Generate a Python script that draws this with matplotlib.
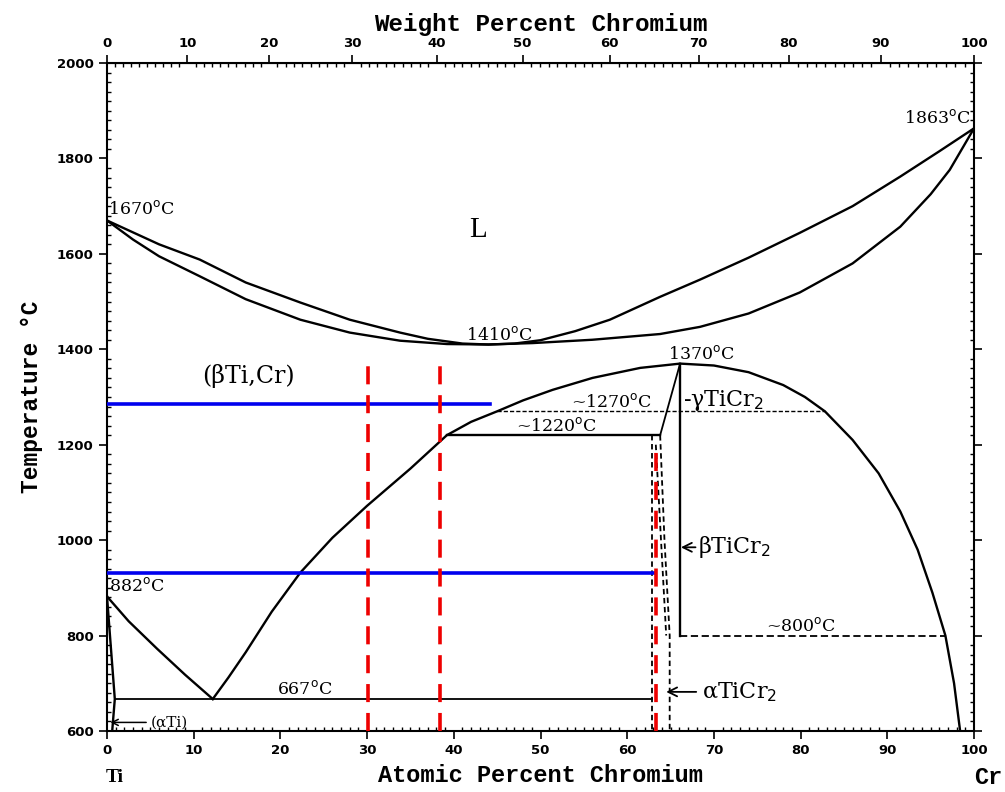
import numpy as np
import matplotlib
matplotlib.use('Agg')
import matplotlib.pyplot as plt
from matplotlib.ticker import MultipleLocator

# Liquidus and solidus (at.% Cr, degC)
liq_x = [0, 3, 6, 10.7, 16, 22.3, 28, 33.8, 37, 41, 44, 47, 50, 54, 58, 63.8, 68.4, 74, 79.9, 86, 91.5, 96, 100]
liq_t = [1670, 1645, 1620, 1588, 1540, 1498, 1462, 1435, 1422, 1412, 1410, 1412, 1419, 1438, 1462, 1510, 1546, 1592, 1644, 1700, 1762, 1815, 1863]
sol_x = [0, 3, 6, 10.7, 16, 22.3, 28, 33.8, 39.2, 44, 49.1, 56, 63.8, 68.4, 74, 79.9, 86, 91.5, 95, 97.2, 100]
sol_t = [1670, 1630, 1595, 1553, 1505, 1462, 1435, 1418, 1411, 1410, 1413, 1420, 1432, 1447, 1475, 1519, 1580, 1657, 1725, 1776, 1863]

# beta solvus dome
dome_x = [12.2, 14, 16, 19, 22.3, 26, 30, 35, 39.2, 42, 45, 48, 51.4, 56, 61.5, 66.1, 70, 74, 78, 80.5, 82.8,
          86, 89, 91.5, 93.5, 95.2, 96.7, 97.7, 98.4]
dome_t = [667, 712, 765, 850, 932, 1005, 1072, 1150, 1220, 1248, 1270, 1293, 1315, 1340, 1361, 1370, 1366, 1352, 1325, 1300, 1270,
          1210, 1140, 1060, 980, 890, 800, 700, 600]

# Ti-rich side
transus_x = [0, 2.5, 5.8, 9, 12.2]
transus_t = [882, 830, 772, 718, 667]
alpha_x = [0, 0.9, 0.6]
alpha_t = [882, 667, 600]

# TiCr2 boundaries
gam_left_x = [63.8, 66.1]
gam_left_t = [1220, 1370]
gam_right_x = [66.1, 66.1]
gam_right_t = [1370, 800]
dash1_x = [62.9, 62.9]
dash1_t = [1220, 600]
dash2_x = [63.8, 64.3, 64.9, 64.9]
dash2_t = [1220, 1000, 800, 600]
dash3_x = [63.3, 63.9, 64.5]
dash3_t = [1200, 1000, 800]

# invariant lines
eutectoid_x = [0.9, 62.9]
eutectoid_t = [667, 667]
h1220_x = [39.2, 63.8]
h1220_t = [1220, 1220]
h1270_x = [45, 82.8]
h1270_t = [1270, 1270]
h800_x = [66.1, 96.7]
h800_t = [800, 800]

# overlay marks
blue_t = [1285, 932]
blue_end = [44.2, 63.2]
red_x = [30.05, 38.4, 63.3]
red_top = [1380, 1380, 1190]


def at2wt(a):
    a = np.asarray(a, dtype=float)
    return 100 * a * 52.0 / (a * 52.0 + (100 - a) * 47.87)


def wt2at(w):
    w = np.asarray(w, dtype=float)
    return 100 * (w / 52.0) / ((w / 52.0) + (100 - w) / 47.87)


fig = plt.figure(figsize=(10.05, 7.92), dpi=100)
ax = fig.add_axes([107 / 1005, 1 - 731 / 792, (974 - 107) / 1005, (731 - 63) / 792])

lw = 1.7
k = 'black'
ax.plot(liq_x, liq_t, color=k, lw=lw)
ax.plot(sol_x, sol_t, color=k, lw=lw)
ax.plot(dome_x, dome_t, color=k, lw=lw)
ax.plot(transus_x, transus_t, color=k, lw=lw)
ax.plot(alpha_x, alpha_t, color=k, lw=lw)
ax.plot(gam_left_x, gam_left_t, color=k, lw=1.3)
ax.plot(gam_right_x, gam_right_t, color=k, lw=lw)
ax.plot(eutectoid_x, eutectoid_t, color=k, lw=1.3)
ax.plot(h1220_x, h1220_t, color=k, lw=lw)
ax.plot(h1270_x, h1270_t, color=k, lw=1.0, ls=(0, (3, 1.5)))
ax.plot(h800_x, h800_t, color=k, lw=1.3, ls=(0, (4, 2)))
for xs, ts in [(dash1_x, dash1_t), (dash2_x, dash2_t), (dash3_x, dash3_t)]:
    ax.plot(xs, ts, color=k, lw=1.3, ls=(0, (3, 2)))

# overlays
for t, xe in zip(blue_t, blue_end):
    ax.plot([0, xe], [t, t], color='#0000ee', lw=2.6, zorder=5)
for x, top in zip(red_x, red_top):
    ax.plot([x, x], [600, top], color='#ee0000', lw=2.6, ls=(0, (5, 3)), zorder=6)

# annotations
serif = 'DejaVu Serif'
big = 'Liberation Serif'
deg = '$^\\mathrm{o}$C'
ts = 12.5
ax.text(0.1, 1676, '1670' + deg, fontsize=ts, family=serif, ha='left', va='bottom')
ax.text(99.6, 1866, '1863' + deg, fontsize=ts, family=serif, ha='right', va='bottom')
ax.text(45.3, 1411, '1410' + deg, fontsize=ts, family=serif, ha='center', va='bottom')
ax.text(68.6, 1372, '1370' + deg, fontsize=ts, family=serif, ha='center', va='bottom')
ax.text(0.2, 886, '882' + deg, fontsize=ts, family=serif, ha='left', va='bottom')
ax.text(22.8, 669, '667' + deg, fontsize=ts, family=serif, ha='center', va='bottom')
ax.text(58.2, 1271, '~1270' + deg, fontsize=ts, family=serif, ha='center', va='bottom')
ax.text(51.9, 1221, '~1220' + deg, fontsize=ts, family=serif, ha='center', va='bottom')
ax.text(80.0, 801, '~800' + deg, fontsize=ts, family=serif, ha='center', va='bottom')
ax.text(42.8, 1650, 'L', fontsize=21, family=big, ha='center', va='center')
ax.text(16.3, 1343, '(\u03b2Ti,Cr)', fontsize=17, family=serif, ha='center', va='center')
ax.text(66.4, 1292, '-\u03b3TiCr$_2$', fontsize=16, family=serif, ha='left', va='center')
ax.annotate('\u03b2TiCr$_2$', xy=(66.2, 985), xytext=(68.2, 985), fontsize=16, family=serif,
            va='center', ha='left',
            arrowprops=dict(arrowstyle='->', color=k, lw=1.3, shrinkA=0, shrinkB=0))
ax.annotate('\u03b1TiCr$_2$', xy=(64.5, 682), xytext=(68.6, 682), fontsize=16, family=serif,
            va='center', ha='left',
            arrowprops=dict(arrowstyle='->', color=k, lw=1.3, shrinkA=2, shrinkB=0))
ax.annotate('(\u03b1Ti)', xy=(0.4, 618), xytext=(5.0, 618), fontsize=11, family=serif,
            va='center', ha='left',
            arrowprops=dict(arrowstyle='->', color=k, lw=1.1, shrinkA=1, shrinkB=0))

ax.set_xlim(0, 100)
ax.set_ylim(600, 2000)
ax.xaxis.set_major_locator(MultipleLocator(10))
ax.xaxis.set_minor_locator(MultipleLocator(1))
ax.yaxis.set_major_locator(MultipleLocator(200))
ax.yaxis.set_minor_locator(MultipleLocator(20))
ax.tick_params(axis='both', which='major', direction='out', length=6, width=1.2,
               labelsize=9.5, right=True)
ax.tick_params(axis='both', which='minor', direction='in', length=3, width=1.0, right=True)
for lab in ax.get_xticklabels() + ax.get_yticklabels():
    lab.set_fontweight('bold')
for s in ax.spines.values():
    s.set_linewidth(1.5)

mono = 'Liberation Mono'
ax.set_xlabel('Atomic Percent Chromium', fontsize=17, family=mono,
              fontweight='bold', labelpad=5)
ax.set_ylabel('Temperature \u00b0C', fontsize=16.5, family=mono,
              fontweight='bold', labelpad=10)

top = ax.secondary_xaxis('top', functions=(at2wt, wt2at))
top.set_xticks(np.arange(0, 101, 10))
top.set_xticks(np.arange(0, 101, 1), minor=True)
top.tick_params(which='major', direction='out', length=6, width=1.2, labelsize=9.5)
top.tick_params(which='minor', direction='in', length=3, width=1.0)
for lab in top.get_xticklabels():
    lab.set_fontweight('bold')
top.set_xlabel('Weight Percent Chromium', fontsize=17.5, family=mono,
               fontweight='bold', labelpad=4)

fig.text(115 / 1005, 1 - 777 / 792, 'Ti', fontsize=14, family=big, fontweight='bold',
         ha='center', va='center')
fig.text(988 / 1005, 1 - 777 / 792, 'Cr', fontsize=17, family=mono,
         fontweight='bold', ha='center', va='center')

fig.savefig('out.png', dpi=100)
